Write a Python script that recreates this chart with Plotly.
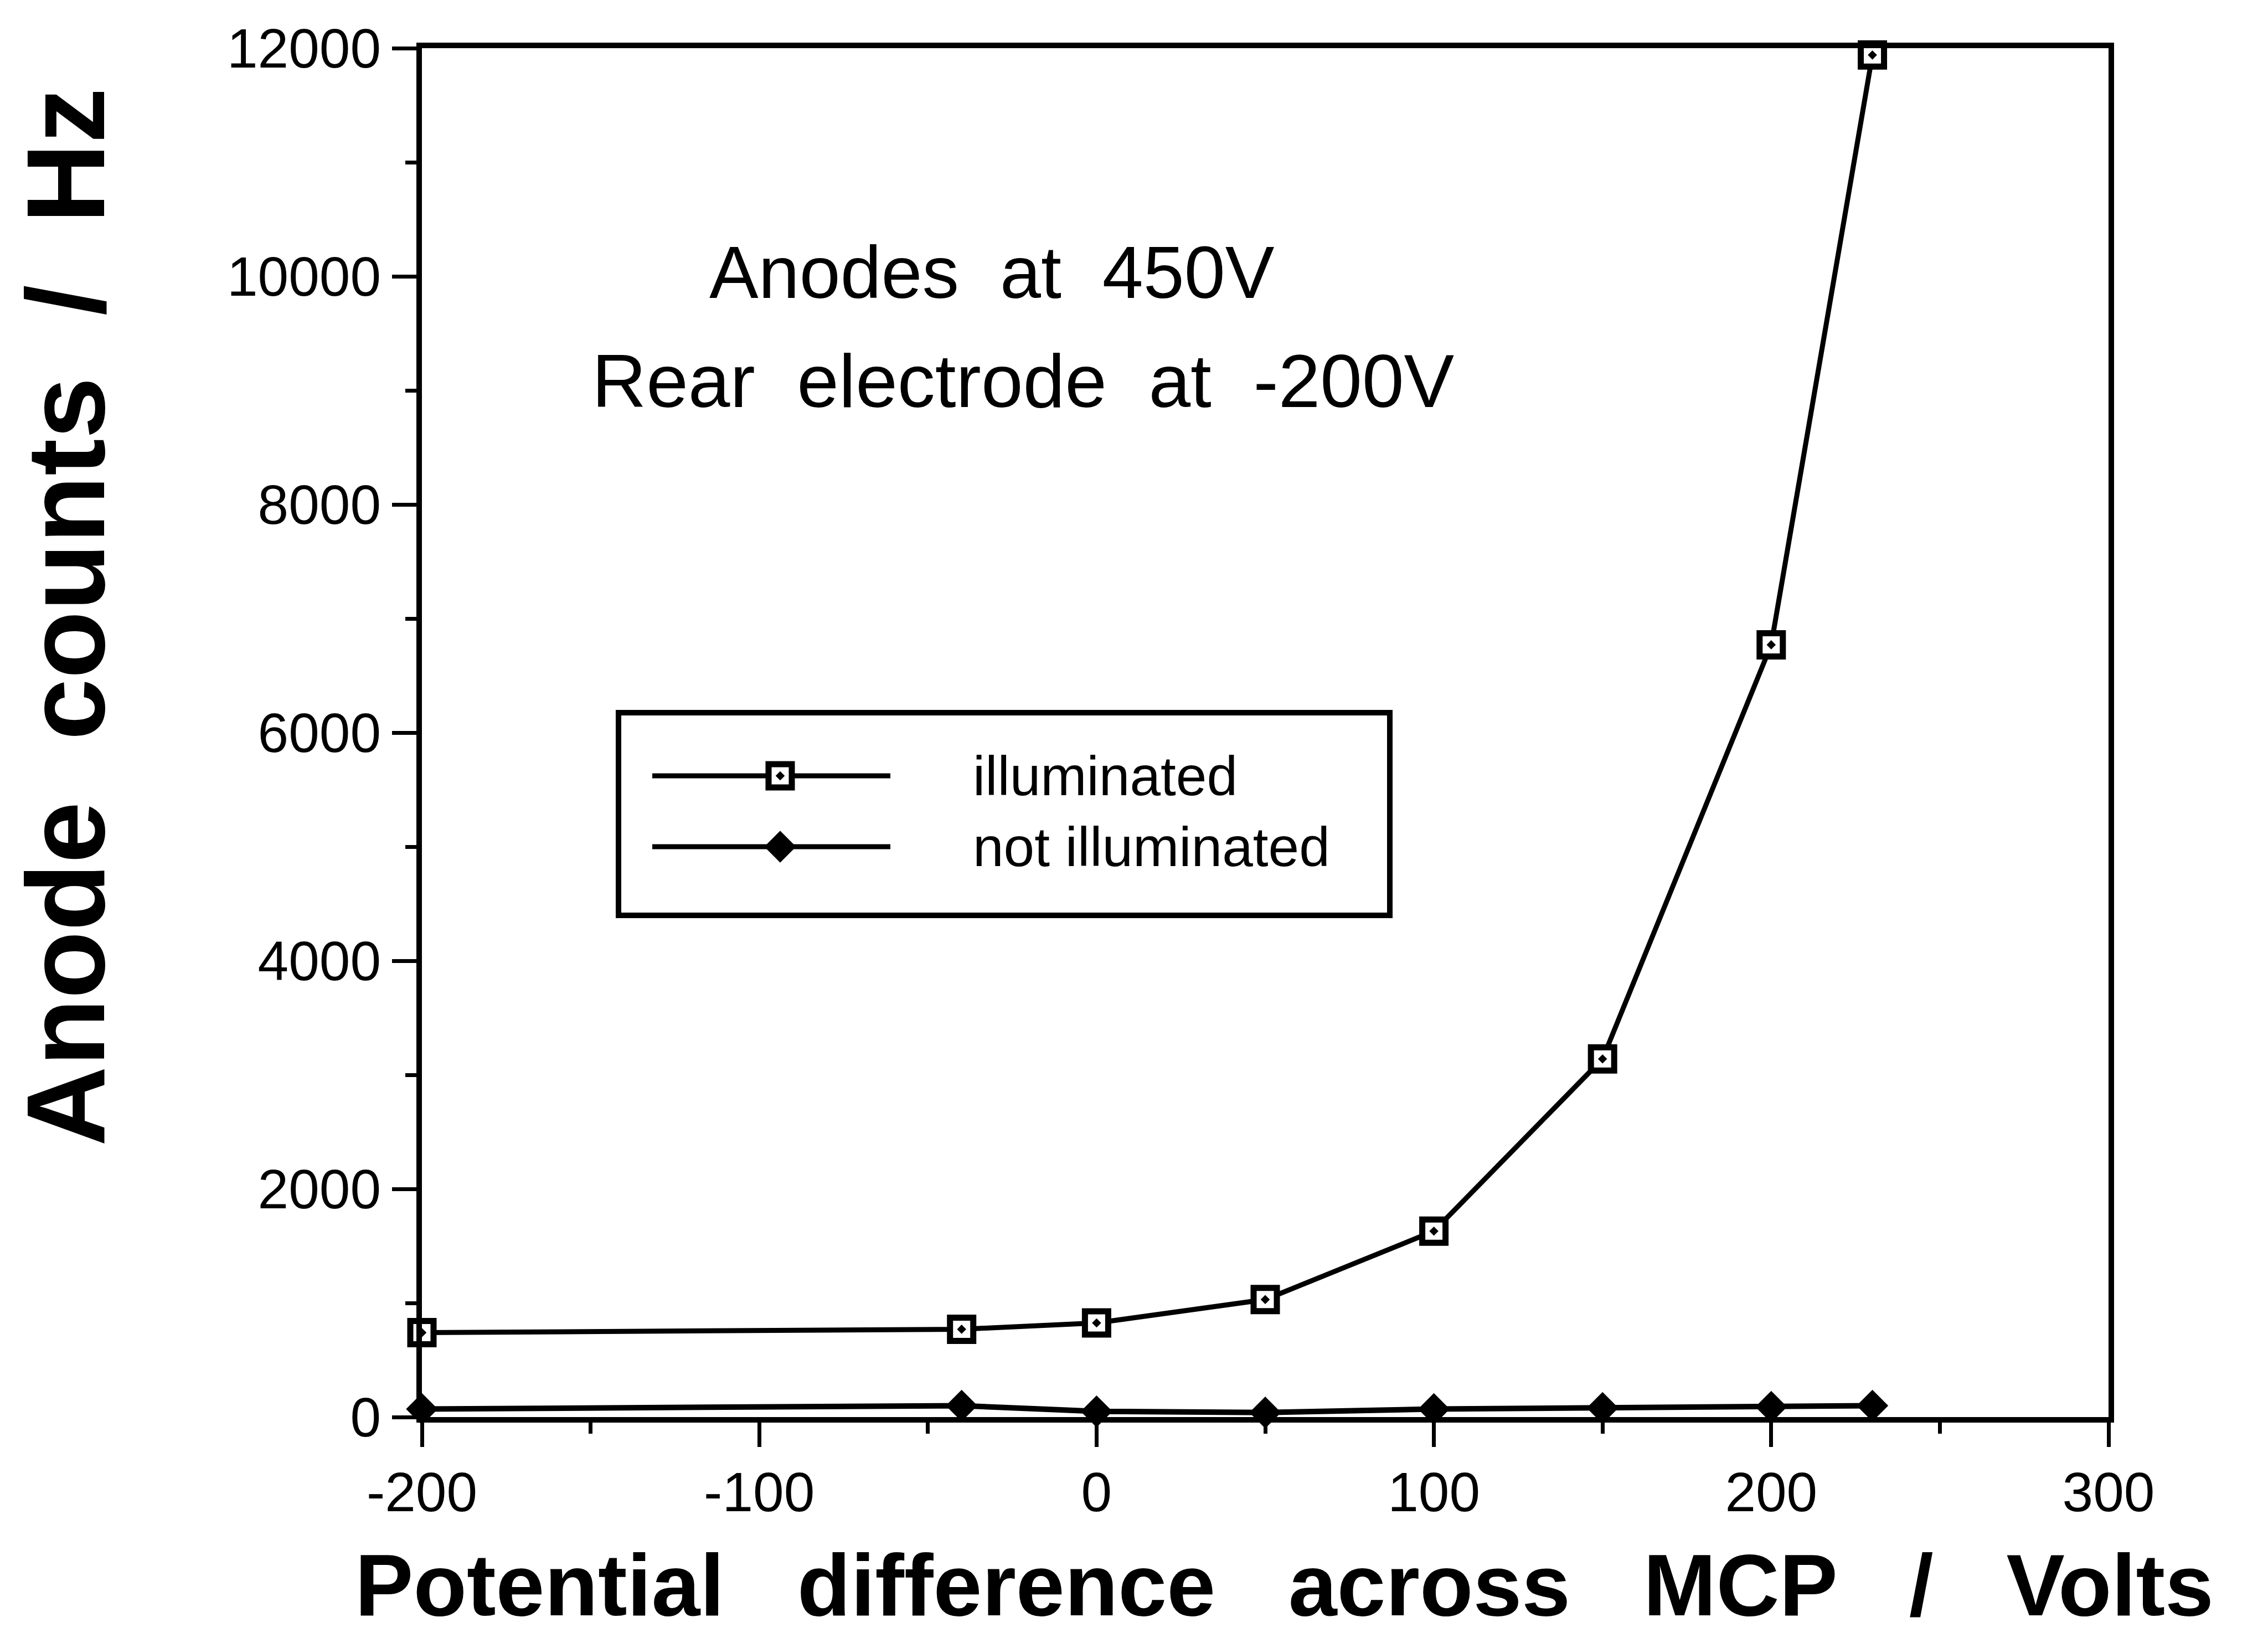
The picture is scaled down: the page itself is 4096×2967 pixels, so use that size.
import plotly.graph_objects as go

# ---- data ----
x_illum = [-200, -40, 0, 50, 100, 150, 200, 230]
y_illum = [740, 770, 825, 1030, 1630, 3140, 6770, 11940]
x_dark = [-200, -40, 0, 50, 100, 150, 200, 230]
y_dark = [70, 100, 50, 40, 70, 80, 90, 100]

x_tickvals = [-200, -100, 0, 100, 200, 300]
x_ticktext = ["-200", "-100", "0", "100", "200", "300"]
y_tickvals = [0, 2000, 4000, 6000, 8000, 10000, 12000]
y_ticktext = ["0", "2000", "4000", "6000", "8000", "10000", "12000"]

series_names = ["illuminated", "not illuminated"]
note_lines = ["Anodes  at  450V", "Rear  electrode  at  -200V"]
x_title = "Potential   difference   across   MCP   /   Volts"
y_title = "Anode  counts  /  Hz"

# ---- layout geometry (output pixels) ----
W, H = 4096, 2967
L, R, T, B = 762, 288, 87, 408
PW = W - L - R
PH = H - T - B


def px(xp):
    return (xp - L) / PW


def py(yp):
    return (H - B - yp) / PH


FONT = "Liberation Sans, Arial, Helvetica, sans-serif"

SQ = dict(symbol="square-dot", size=42, color="white",
          line=dict(color="black", width=11))
DM = dict(symbol="diamond", size=42, color="black",
          line=dict(color="black", width=2))

fig = go.Figure()

fig.add_trace(go.Scatter(
    x=x_illum, y=y_illum, mode="lines+markers", name=series_names[0],
    line=dict(color="black", width=9), marker=SQ,
    cliponaxis=False, showlegend=False))

fig.add_trace(go.Scatter(
    x=x_dark, y=y_dark, mode="lines+markers", name=series_names[1],
    line=dict(color="black", width=10), marker=DM,
    cliponaxis=False, showlegend=False))

# ---- hand-drawn legend (box, sample lines, markers, labels) ----
leg_rows_y = [1401, 1529]
shapes = [
    dict(type="rect", xref="paper", yref="paper",
         x0=px(1117), x1=px(2510), y0=py(1653), y1=py(1287),
         line=dict(color="black", width=10), fillcolor="white", layer="below"),
]
for yy in leg_rows_y:
    shapes.append(dict(type="line", xref="paper", yref="paper",
                       x0=px(1178), x1=px(1608), y0=py(yy), y1=py(yy),
                       line=dict(color="black", width=9), layer="below"))

fig.add_trace(go.Scatter(
    x=[px(1409)], y=[py(leg_rows_y[0])], xaxis="x2", yaxis="y2",
    mode="markers", showlegend=False, hoverinfo="skip",
    marker=SQ, cliponaxis=False))
fig.add_trace(go.Scatter(
    x=[px(1409)], y=[py(leg_rows_y[1])], xaxis="x2", yaxis="y2",
    mode="markers", showlegend=False, hoverinfo="skip",
    marker=DM, cliponaxis=False))

annotations = [
    dict(text=series_names[0], x=px(1755), y=py(leg_rows_y[0]),
         xanchor="left", yanchor="middle"),
    dict(text=series_names[1], x=px(1755), y=py(leg_rows_y[1]),
         xanchor="left", yanchor="middle"),
]
for a in annotations:
    a.update(xref="paper", yref="paper", showarrow=False,
             font=dict(family=FONT, size=100, color="black"))

annotations += [
    dict(text=note_lines[0], x=px(1791), y=py(492), xref="paper", yref="paper",
         xanchor="center", yanchor="middle", showarrow=False,
         font=dict(family=FONT, size=133, color="black")),
    dict(text=note_lines[1], x=px(1848), y=py(688), xref="paper", yref="paper",
         xanchor="center", yanchor="middle", showarrow=False,
         font=dict(family=FONT, size=136, color="black")),
    dict(text="<b>" + y_title + "</b>", x=px(118), y=py(1115),
         xref="paper", yref="paper", textangle=-90,
         xanchor="center", yanchor="middle", showarrow=False,
         font=dict(family=FONT, size=200, color="black")),
    dict(text="<b>" + x_title + "</b>", x=px(2319), y=py(2862),
         xref="paper", yref="paper",
         xanchor="center", yanchor="middle", showarrow=False,
         font=dict(family=FONT, size=158, color="black")),
]

axis_common = dict(
    showline=True, linecolor="black", linewidth=10, mirror=True,
    showgrid=False, zeroline=False,
    ticks="outside", ticklen=44, tickwidth=7, tickcolor="black",
    tickmode="array",
)

fig.update_layout(
    width=W, height=H,
    margin=dict(l=L, r=R, t=T, b=B, pad=0),
    paper_bgcolor="white", plot_bgcolor="white",
    showlegend=False,
    xaxis=dict(range=[-200, 300], tickvals=x_tickvals, ticktext=x_ticktext,
               tickfont=dict(family=FONT, size=100, color="black"),
               minor=dict(ticks="outside", ticklen=20, tickwidth=7,
                          tickcolor="black", dtick=50, tick0=-200),
               ticklabelstandoff=-4,
               **axis_common),
    yaxis=dict(range=[0, 12000], tickvals=y_tickvals, ticktext=y_ticktext,
               tickfont=dict(family=FONT, size=100, color="black"),
               minor=dict(ticks="outside", ticklen=20, tickwidth=7,
                          tickcolor="black", dtick=1000, tick0=0),
               ticklabelstandoff=0,
               **axis_common),
    xaxis2=dict(overlaying="x", range=[0, 1], visible=False, anchor="y2"),
    yaxis2=dict(overlaying="y", range=[0, 1], visible=False, anchor="x2"),
    shapes=shapes,
    annotations=annotations,
)

fig.write_html("out.html")
